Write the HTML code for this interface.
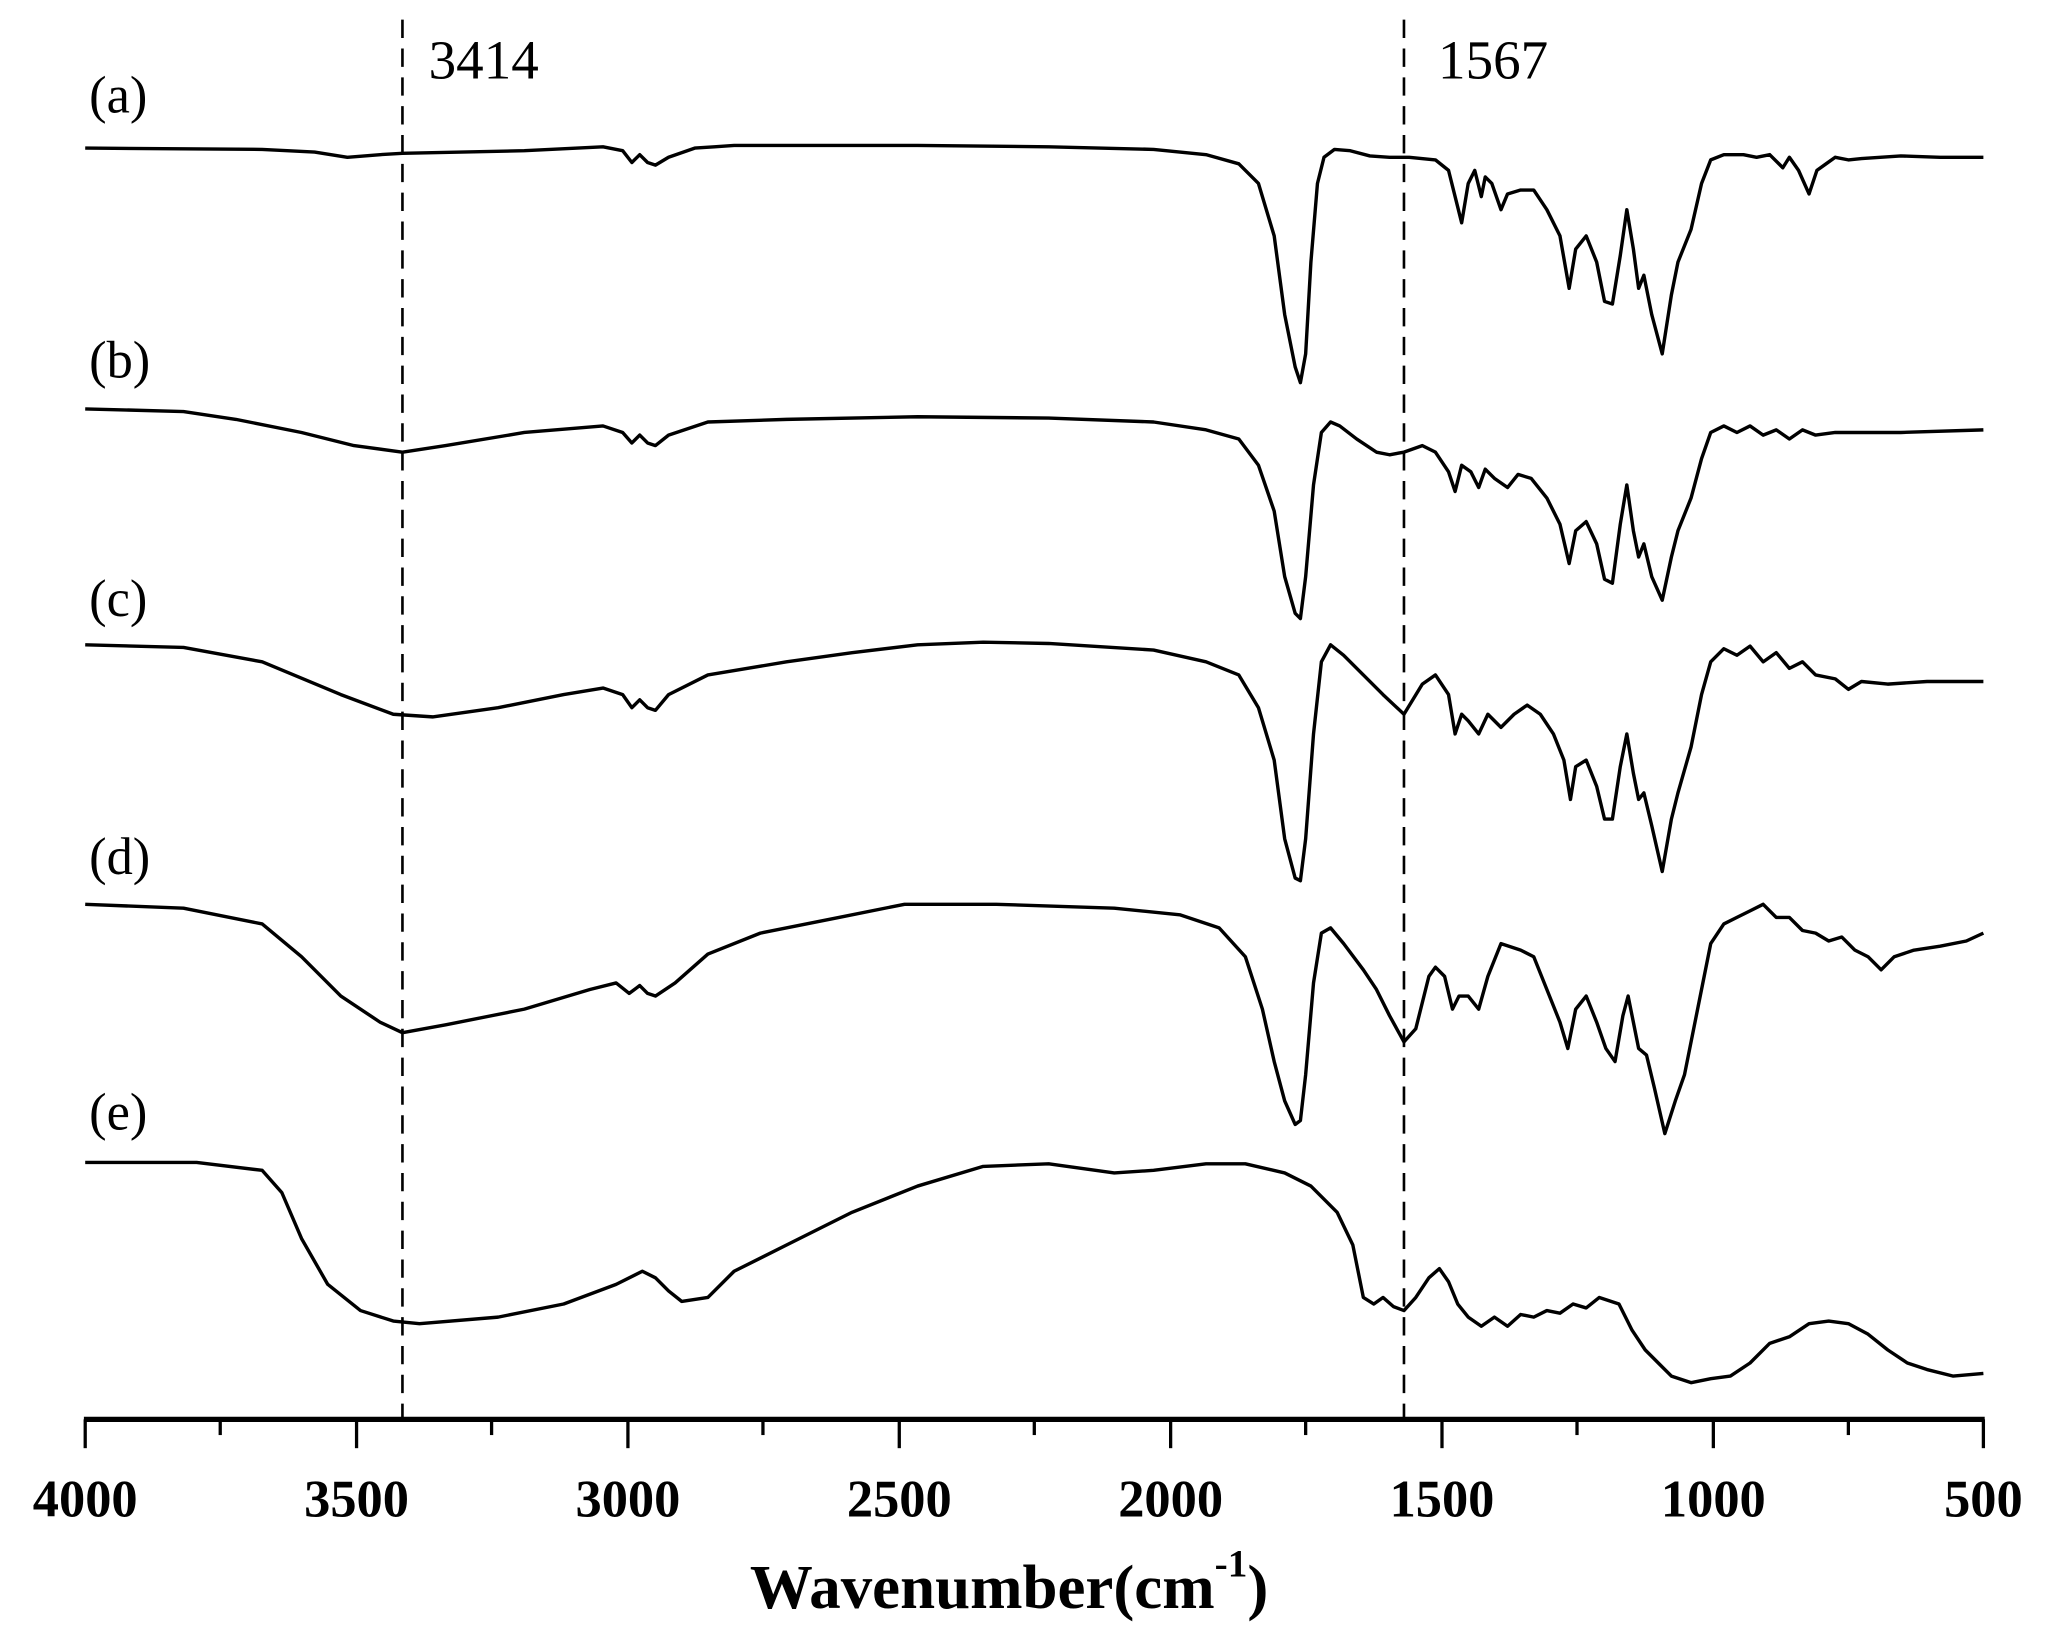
<!DOCTYPE html>
<html><head><meta charset="utf-8"><style>
html,body{margin:0;padding:0;background:#fff;}
svg{display:block;}
text{font-family:"Liberation Serif",serif;fill:#000;}
</style></head><body>
<svg width="2045" height="1650" viewBox="0 0 1560 1259" preserveAspectRatio="none" xmlns="http://www.w3.org/2000/svg">
<g stroke="#000" stroke-width="2" stroke-dasharray="14,8" fill="none">
<line x1="307" y1="15" x2="307" y2="1083"/>
<line x1="1071" y1="15" x2="1071" y2="1083"/>
</g>
<text x="327" y="60" font-size="42">3414</text>
<text x="1097" y="60" font-size="42">1567</text>
<g font-size="40">
<text x="68" y="86">(a)</text>
<text x="68" y="288">(b)</text>
<text x="68" y="470">(c)</text>
<text x="68" y="667">(d)</text>
<text x="68" y="862">(e)</text>
</g>
<g stroke="#000" stroke-width="2.6" fill="none" stroke-linejoin="round">
<polyline points="65,113 200,114 240,116 265,120 290,118 307,117 400,115 460,112 475,115 482,124 488,118 494,124 500,126 510,120 530,113 545,112 560,111 700,111 800,112 880,114 920,118 945,125 960,140 972,180 980,240 988,280 992,292 996,270 1000,200 1005,140 1010,120 1018,114 1030,115 1045,119 1060,120 1075,120 1095,122 1105,130 1110,150 1115,170 1120,140 1125,130 1130,150 1133,135 1138,140 1145,160 1150,148 1160,145 1170,145 1180,160 1190,180 1197,220 1202,190 1210,180 1218,200 1224,230 1230,232 1236,195 1241,160 1246,190 1250,220 1254,210 1260,240 1268,270 1275,225 1280,200 1290,175 1298,140 1305,122 1315,118 1330,118 1340,120 1350,118 1360,128 1365,120 1372,130 1380,148 1386,130 1393,125 1400,120 1410,122 1420,121 1450,119 1480,120 1513,120"/>
<polyline points="65,312 140,314 180,320 230,330 270,340 307,345 340,340 400,330 460,325 475,330 482,338 488,332 494,338 500,340 510,332 540,322 600,320 700,318 800,319 880,322 920,328 945,335 960,355 972,390 980,440 988,468 992,472 996,440 1002,370 1008,330 1015,322 1022,325 1035,335 1050,345 1060,347 1071,345 1085,340 1095,345 1105,360 1110,375 1115,355 1122,360 1128,372 1133,358 1140,365 1150,372 1158,362 1168,365 1180,380 1190,400 1197,430 1202,405 1210,398 1218,415 1224,442 1230,445 1236,400 1241,370 1246,405 1250,425 1254,415 1260,440 1268,458 1275,425 1280,405 1290,380 1298,350 1305,330 1315,325 1325,330 1335,325 1345,332 1355,328 1365,335 1375,328 1385,332 1400,330 1450,330 1513,328"/>
<polyline points="65,492 140,494 200,505 260,530 300,545 330,547 380,540 430,530 460,525 475,530 482,540 488,534 494,540 500,542 510,530 540,515 600,505 650,498 700,492 750,490 800,491 880,496 920,505 945,515 960,540 972,580 980,640 988,670 992,672 996,640 1002,560 1008,505 1015,492 1025,500 1040,515 1055,530 1071,545 1085,522 1095,515 1105,530 1110,560 1115,545 1120,550 1128,560 1135,545 1145,555 1155,545 1165,538 1175,545 1185,560 1193,580 1198,610 1202,585 1210,580 1218,600 1224,625 1230,625 1236,585 1241,560 1246,590 1250,610 1254,605 1260,630 1268,665 1275,625 1280,605 1290,570 1298,530 1305,505 1315,495 1325,500 1335,493 1345,505 1355,498 1365,510 1375,505 1385,515 1400,518 1410,526 1420,520 1440,522 1470,520 1513,520"/>
<polyline points="65,690 140,693 200,705 230,730 260,760 290,780 307,788 340,782 400,770 450,755 470,750 480,758 488,752 494,758 500,760 515,750 540,728 580,712 640,700 690,690 760,690 850,693 900,698 930,708 950,730 963,770 972,810 980,840 988,858 992,855 996,820 1002,750 1008,712 1015,708 1025,720 1040,740 1050,755 1060,775 1071,795 1080,785 1090,745 1095,738 1102,745 1108,770 1113,760 1120,760 1128,770 1135,745 1145,720 1160,725 1170,730 1180,755 1190,780 1196,800 1202,770 1210,760 1218,780 1225,800 1232,810 1238,775 1242,760 1246,780 1250,800 1256,805 1262,830 1270,865 1278,840 1285,820 1295,770 1305,720 1315,705 1325,700 1335,695 1345,690 1355,700 1365,700 1375,710 1385,712 1395,718 1405,715 1415,725 1425,730 1435,740 1445,730 1460,725 1480,722 1500,718 1513,712"/>
<polyline points="65,887 150,887 200,893 215,910 230,945 250,980 275,1000 300,1008 320,1010 380,1005 430,995 470,980 490,970 500,975 510,985 520,993 540,990 560,970 600,950 650,925 700,905 750,890 800,888 850,895 880,893 920,888 950,888 980,895 1000,905 1020,925 1032,950 1040,990 1048,995 1055,990 1063,997 1071,1000 1080,990 1090,975 1098,968 1105,978 1112,995 1120,1005 1130,1012 1140,1005 1150,1012 1160,1003 1170,1005 1180,1000 1190,1002 1200,995 1210,998 1220,990 1235,995 1245,1015 1255,1030 1265,1040 1275,1050 1290,1055 1305,1052 1320,1050 1335,1040 1350,1025 1365,1020 1380,1010 1395,1008 1410,1010 1425,1018 1440,1030 1455,1040 1470,1045 1490,1050 1513,1048"/>
</g>
<line x1="64" y1="1083" x2="1514" y2="1083" stroke="#000" stroke-width="4"/>
<g stroke="#000" stroke-width="2.5">
<line x1="65" y1="1083" x2="65" y2="1105"/><line x1="168" y1="1083" x2="168" y2="1095"/>
<line x1="272" y1="1083" x2="272" y2="1105"/><line x1="375" y1="1083" x2="375" y2="1095"/>
<line x1="479" y1="1083" x2="479" y2="1105"/><line x1="582" y1="1083" x2="582" y2="1095"/>
<line x1="686" y1="1083" x2="686" y2="1105"/><line x1="789" y1="1083" x2="789" y2="1095"/>
<line x1="893" y1="1083" x2="893" y2="1105"/><line x1="996" y1="1083" x2="996" y2="1095"/>
<line x1="1100" y1="1083" x2="1100" y2="1105"/><line x1="1203" y1="1083" x2="1203" y2="1095"/>
<line x1="1307" y1="1083" x2="1307" y2="1105"/><line x1="1410" y1="1083" x2="1410" y2="1095"/>
<line x1="1513" y1="1083" x2="1513" y2="1105"/>
</g>
<g font-size="40" font-weight="bold" text-anchor="middle">
<text x="65" y="1157">4000</text><text x="272" y="1157">3500</text><text x="479" y="1157">3000</text>
<text x="686" y="1157">2500</text><text x="893" y="1157">2000</text><text x="1100" y="1157">1500</text>
<text x="1307" y="1157">1000</text><text x="1513" y="1157">500</text>
</g>
<text x="572" y="1227" font-size="48" font-weight="bold">Wavenumber(cm<tspan font-size="30" dy="-24">-1</tspan><tspan dy="24">)</tspan></text>
</svg>
</body></html>
